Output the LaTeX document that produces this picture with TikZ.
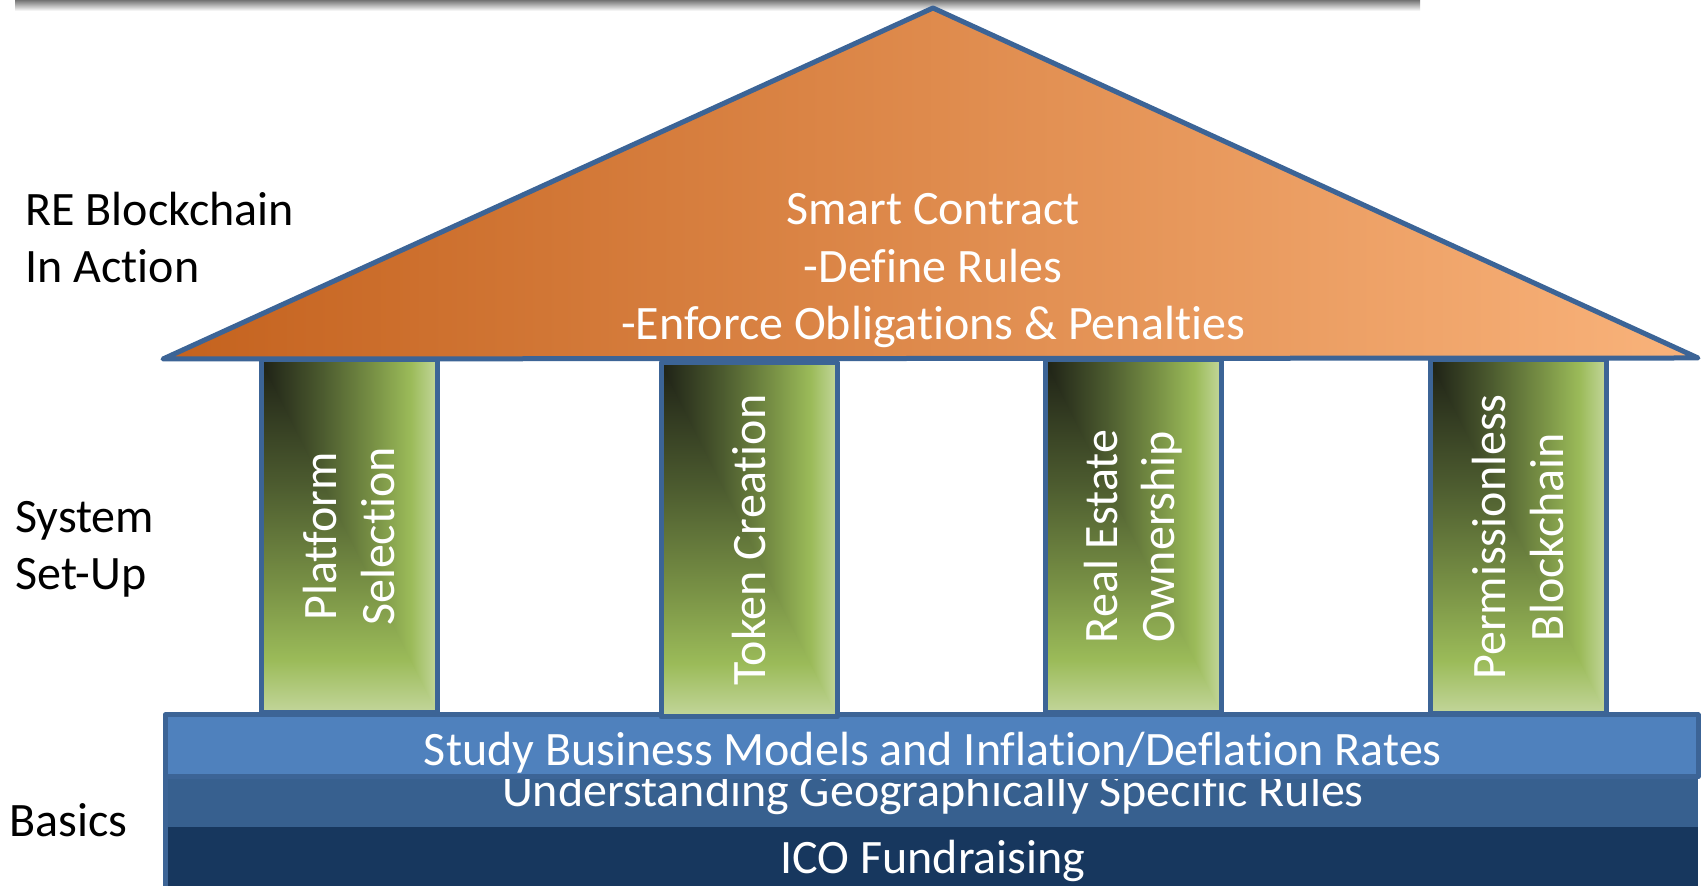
\documentclass[tikz,border=0pt]{standalone}
\usepackage{fontspec}
\setmainfont{Carlito}[Ligatures=NoCommon]
\usepackage{xcolor}
\usepackage{tikz}

\definecolor{edgeblue}{HTML}{3C6496}
\definecolor{roofleft}{HTML}{C4621E}
\definecolor{roofmid}{HTML}{F2913F}
\definecolor{roofright}{HTML}{F9B37B}
\definecolor{bandlight}{HTML}{4F81BD}
\definecolor{bandmid}{HTML}{37608F}
\definecolor{banddark}{HTML}{17375E}
\definecolor{pdark}{HTML}{1E2116}
\definecolor{pdim}{HTML}{4C5B2F}
\definecolor{pmid}{HTML}{7A9346}
\definecolor{pgreen}{HTML}{9BBB59}
\definecolor{plight}{HTML}{C3D69B}

% pillar fill: dark corner top left, light along right and bottom edges
\pgfdeclareverticalshading{pillarv}{100bp}{color(0bp)=(plight); color(25bp)=(plight);
  color(32.5bp)=(pgreen); color(42.5bp)=(pmid); color(57.5bp)=(pdim);
  color(75bp)=(pdark); color(100bp)=(pdark)}
\pgfdeclarehorizontalshading{pillarh}{100bp}{color(0bp)=(pdark); color(25bp)=(pdark);
  color(42.5bp)=(pdim); color(57.5bp)=(pmid); color(67.5bp)=(pgreen);
  color(75bp)=(plight); color(100bp)=(plight)}

\newcommand{\housefont}{\fontsize{24}{28.75}\selectfont}

\begin{document}
\begin{tikzpicture}[x=0.5pt,y=0.5pt,
    edge/.style={draw=edgeblue,line width=2.5pt,line join=round},
    sidetext/.style={anchor=base west,inner sep=0pt,align=left,font=\housefont},
    whitetext/.style={text=white,inner sep=0pt,align=center,font=\housefont},
    pillartext/.style={whitetext,rotate=90}]
  \clip (0,0) rectangle (1701,886);
  \fill[white] (0,0) rectangle (1701,886);
  % shadow of the bar cut off at the top
  \shade[top color=black!55,bottom color=white] (15,875) rectangle (1420,886);
  % roof
  \draw[edge,left color=roofleft,middle color=roofmid,right color=roofright]
    (163,527) -- (933,878) -- (1698,528) -- cycle;
  \node[whitetext,anchor=base] (contract) at (933,546)
    {Smart Contract\\-Define Rules\\-Enforce Obligations \& Penalties};
  % foundation bands (the top band hides the tops of the middle text)
  \fill[banddark] (165,0) rectangle (1698,59);
  \node[whitetext,anchor=base] (ico) at (933,12) {ICO Fundraising};
  \fill[bandmid] (165,59) rectangle (1698,109);
  \node[whitetext,anchor=base] (rules) at (933,79) {Understanding Geographically Specific Rules};
  \draw[edge,fill=bandlight] (165,109) rectangle (1698,171);
  \node[whitetext,anchor=base] (models) at (933,120) {Study Business Models and Inflation/Deflation Rates};
  \draw[edge] (165,0) -- (165,109);
  % pillars
  \foreach \px/\pt/\pb/\pname/\ptext in {
      261/526/173/platform/{Platform\\Selection},
      661/523/169/token/{Token Creation},
      1045/526/173/estate/{Real Estate\\Ownership},
      1430/526/172/permless/{Permissionless\\Blockchain}} {
    \shade[shading=pillarv] (\px,\pb) rectangle (\px+176,\pt);
    \begin{scope}
      \clip (\px,\pt) -- (\px+176,\pt) -- (\px+176,\pb) -- cycle;
      \shade[shading=pillarh] (\px,\pb) rectangle (\px+176,\pt);
    \end{scope}
    \draw[edge] (\px,\pb) rectangle (\px+176,\pt);
    \node[pillartext] (\pname) at (\px+88,{(\pt+\pb)/2}) {\ptext};
  }
  % level names on the left
  \node[sidetext] (action) at (25,603) {RE Blockchain\\In Action};
  \node[sidetext] (setup) at (15,296) {System\\Set-Up};
  \node[sidetext] (basics) at (9,49) {Basics};
\end{tikzpicture}
\end{document}
